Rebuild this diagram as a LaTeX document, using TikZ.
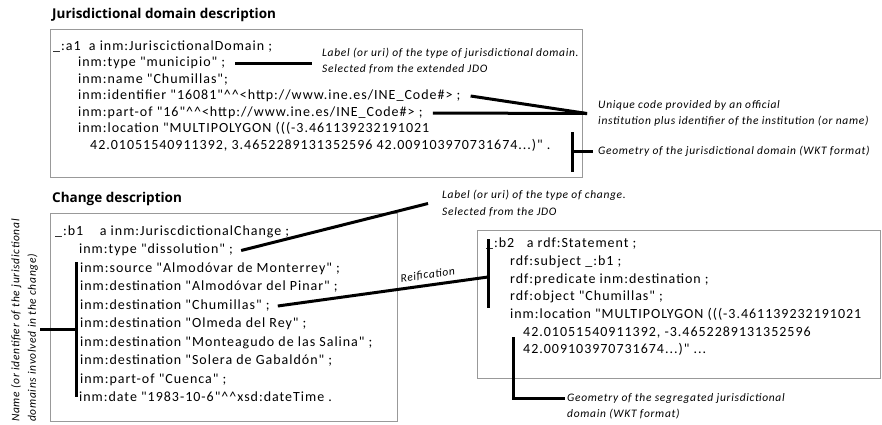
\documentclass[tikz,border=0pt]{standalone}
\usepackage{fontspec}
\setmainfont{Carlito}[LetterSpace=7,Ligatures=TeXOff]
\newfontfamily\notefont{Carlito}[LetterSpace=6,Ligatures=TeXOff]
\newfontfamily\headfont{Open Sans}
\usetikzlibrary{positioning,calc}
\newcommand{\ddcaret}{\textasciicircum\textasciicircum}
\begin{document}
\begin{tikzpicture}[x=1pt,y=-1pt,
code/.style={anchor=west,inner sep=0pt,text height=9pt,text depth=3pt,font=\fontsize{14}{16}\selectfont},
note/.style={anchor=west,inner sep=0pt,align=left,font=\notefont\fontsize{11.5}{16.5}\selectfont\itshape},
head/.style={anchor=west,inner sep=0pt,font=\headfont\fontsize{13.5}{15}\selectfont\bfseries},
frame/.style={draw=black!40,line width=0.8pt},
conn/.style={line width=3pt}]
\useasboundingbox (0,0) rectangle (882,424);
\node[head] (title1) at (52,15) {Jurisdictional domain description};
\draw[frame] (50,29) rectangle (582,177);
\node[code] (a1) at (53,47) {\_:a1\ \ a inm:JuriscictionalDomain ;};
\node[code] (a2) at (78,63) {inm:type "municipio" ;};
\node[code] (a3) at (78,80) {inm:name "Chumillas";};
\node[code] (a4) at (78,96) {inm:identifier "16081"\ddcaret<http://www.ine.es/INE\_Code\#> ;};
\node[code] (a5) at (78,113) {inm:part-of "16"\ddcaret<http://www.ine.es/INE\_Code\#> ;};
\node[code] (a6) at (78,129) {inm:location "MULTIPOLYGON (((-3.461139232191021};
\node[code] (a7) at (90,146) {42.01051540911392, 3.4652289131352596 42.009103970731674...)" .};
\node[note] (typeA) at (322,61) {Label (or uri) of the type of jurisdictional domain.\\Selected from the extended JDO};
\node[note] (codeA) at (598,113.5) {Unique code provided by an official\\institution plus identifier of the institution (or name)};
\node[note] (geoA) at (598,151) {Geometry of the jurisdictional domain (WKT format)};
\draw[conn] ([xshift=10pt]a2.east) -- ([xshift=-10pt]typeA.west |- a2.east);
\coordinate (tip) at ([xshift=-11pt]codeA.west);
\draw[conn] ([xshift=10pt]a4.east) -- (tip);
\draw[conn] ([xshift=10pt]a5.east) -- (tip);
\coordinate (geoAtop) at (572,132);
\coordinate (geoAbot) at (572,172);
\draw[conn] (geoAtop) -- (geoAbot);
\draw[conn] (geoAtop |- geoA.west) -- ([xshift=-5pt]geoA.west);
\node[head] (title2) at (52,199) {Change description};
\draw[frame] (50,213) rectangle (397,421);
\node[code] (b1) at (55,232) {\_:b1\ \ \ \ a inm:JuriscdictionalChange ;};
\node[code] (b2) at (79,250.5) {inm:type "dissolution" ;};
\node[code] (b3) at (80,269) {inm:source "Almodóvar de Monterrey" ;};
\node[code] (b4) at (80,287.5) {inm:destination "Almodóvar del Pinar" ;};
\node[code] (b5) at (80,306) {inm:destination "Chumillas" ;};
\node[code] (b6) at (80,324.5) {inm:destination "Olmeda del Rey" ;};
\node[code] (b7) at (80,343) {inm:destination "Monteagudo de las Salina" ;};
\node[code] (b8) at (80,361.5) {inm:destination "Solera de Gabaldón" ;};
\node[code] (b9) at (80,380) {inm:part-of "Cuenca" ;};
\node[code] (b10) at (79,398.5) {inm:date "1983-10-6"\ddcaret xsd:dateTime .};
\node[note] (typeB) at (442,203.5) {Label (or uri) of the type of change.\\Selected from the JDO};
\draw[conn] ([xshift=8pt]b2.east) -- ([xshift=-14pt]typeB.west);
\coordinate (namesTop) at (76,262);
\coordinate (namesBot) at (76,397);
\coordinate (namesMid) at ($(namesTop)!0.5!(namesBot)$);
\node[note,rotate=90,anchor=south west] (names) at (38,422) {Name (or identifier of the jurisdictional\\domains involved in the change)};
\draw[conn] (namesTop) -- (namesBot);
\draw[conn] ([xshift=2pt]namesMid -| names.south) -- (namesMid);
\draw[frame] (477,230) rectangle (880,378);
\node[code] (c1) at (486,244) {\_:b2\ \ \ a rdf:Statement ;};
\node[code] (c2) at (510,262) {rdf:subject \_:b1 ;};
\node[code] (c3) at (510,280) {rdf:predicate inm:destination ;};
\node[code] (c4) at (510,297) {rdf:object "Chumillas" ;};
\node[code] (c5) at (510,315) {inm:location "MULTIPOLYGON (((-3.461139232191021};
\node[code] (c6) at (523,333) {42.01051540911392, -3.4652289131352596};
\node[code] (c7) at (523,350) {42.009103970731674...)" ...};
\coordinate (reifTop) at (488,239);
\coordinate (reifBot) at (488,308);
\coordinate (reifMid) at (488,277);
\draw[conn] (reifTop) -- (reifBot);
\draw[conn] ([xshift=8pt]b5.east) -- node[pos=0.72,above=4pt,sloped,inner sep=0pt,font=\notefont\fontsize{11.5}{16}\selectfont\itshape] (reif) {Reification} (reifMid);
\node[note,anchor=north west] (geoB) at (567,393) {Geometry of the segregated jurisdictional\\domain (WKT format)};
\coordinate (geoBtop) at (513,337);
\coordinate (geoBbot) at (513,398);
\draw[conn] (geoBtop) -- (geoBbot) -- ([xshift=-2pt]geoBbot -| geoB.west);
\end{tikzpicture}
\end{document}
